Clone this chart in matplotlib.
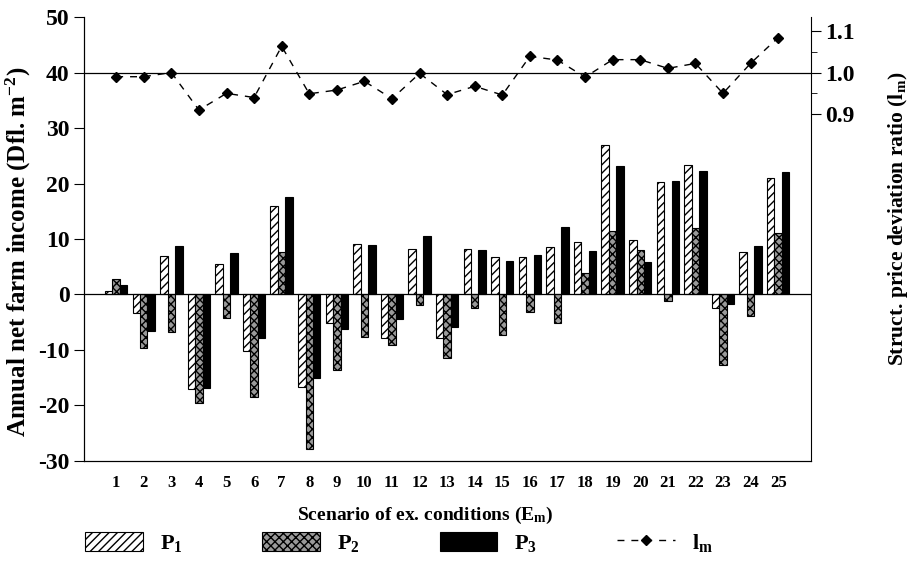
import numpy as np
from matplotlib import pyplot as plt
from matplotlib.ticker import FixedLocator

plt.rcParams['font.family'] = ['Liberation Serif', 'DejaVu Serif']
plt.rcParams['mathtext.fontset'] = 'stix'
plt.rcParams['hatch.linewidth'] = 1.0
plt.rcParams['axes.unicode_minus'] = False

#Data
scen = np.arange(1, 26)
p1 = [0.7, -3.3, 7.0, -17.1, 5.5, -10.2, 15.9, -16.6, -5.1, 9.1,
      -7.9, 8.2, -7.8, 8.2, 6.8, 6.7, 8.5, 9.5, 27.0, 9.9,
      20.3, 23.4, -2.4, 7.6, 21.0]
p2 = [2.7, -9.7, -6.8, -19.5, -4.2, -18.4, 7.7, -27.9, -13.6, -7.6,
      -9.1, -1.9, -11.5, -2.4, -7.3, -3.1, -5.2, 3.8, 11.4, 8.0,
      -1.2, 11.9, -12.7, -3.9, 11.1]
p3 = [1.7, -6.6, 8.8, -16.8, 7.5, -7.9, 17.5, -15.1, -6.2, 8.9,
      -4.4, 10.6, -5.9, 8.1, 6.1, 7.1, 12.1, 7.8, 23.2, 5.9,
      20.5, 22.3, -1.8, 8.7, 22.1]
lm = [0.99, 0.99, 1.00, 0.91, 0.95, 0.94, 1.063, 0.949, 0.958, 0.979,
      0.937, 0.998, 0.947, 0.967, 0.946, 1.039, 1.030, 0.989, 1.031, 1.031,
      1.010, 1.022, 0.950, 1.022, 1.084]

fig = plt.figure(figsize=(9.15, 5.69), dpi=100)
ax = fig.add_axes([0.092, 0.19, 0.794, 0.78])

w = 0.27
b1 = ax.bar(scen - w, p1, w, color='white', edgecolor='black', hatch='////', linewidth=0.8, label=r'P$\mathregular{_1}$')
b2 = ax.bar(scen, p2, w, color='#9a9a9a', edgecolor='black', hatch='xxxx', linewidth=0.8, label=r'P$\mathregular{_2}$')
b3 = ax.bar(scen + w, p3, w, color='black', edgecolor='black', linewidth=0.8, label=r'P$\mathregular{_3}$')
ax.axhline(0, color='black', lw=0.9)

ax.set_xlim(-0.16, 26.18)
ax.set_ylim(-30, 50)
ax.set_yticks(np.arange(-30, 51, 10))
ax.set_xticks(scen)
ax.tick_params(axis='x', length=0, pad=10, labelsize=12)
ax.tick_params(axis='y', direction='out', length=7, labelsize=17)
for t in ax.get_yticklabels() + ax.get_xticklabels():
    t.set_fontweight('bold')
ax.spines['top'].set_visible(False)
ax.spines['right'].set_visible(False)
ax.set_ylabel(r'Annual net farm income (Dfl. m$\mathregular{^{-2}}$)', fontsize=18, fontweight='bold')
ax.yaxis.set_label_coords(-0.07, 0.47)
ax.set_xlabel(r'Scenario of ex. conditions (E$\mathregular{_m}$)', fontsize=14, fontweight='bold')
ax.xaxis.set_label_coords(0.47, -0.10)

#second axis for the ratio
ax2 = ax.twinx()
ax2.set_ylim(1 + (-30 - 40) / 75.0, 1 + (50 - 40) / 75.0)
ax2.yaxis.set_major_locator(FixedLocator([0.9, 1.0, 1.1]))
ax2.yaxis.set_minor_locator(FixedLocator([0.95, 1.05]))
ax2.tick_params(axis='y', which='major', direction='out', length=7, labelsize=17)
ax2.tick_params(axis='y', which='minor', direction='out', length=4)
ax2.set_yticklabels(['0.9', '1.0', '1.1'], fontweight='bold')
ax2.spines['top'].set_visible(False)
ax2.axhline(1.0, color='black', lw=0.9)
l1, = ax2.plot(scen, lm, color='black', ls=(0, (5, 5)), lw=1.0, marker='D', ms=5, label=r'l$\mathregular{_m}$')
ax2.set_ylabel(r'Struct. price deviation ratio (l$\mathregular{_m}$)', fontsize=15.5, fontweight='bold')
ax2.yaxis.set_label_coords(1.103, 0.546)

fig.legend(handles=[b1, b2, b3, l1], loc='center left', bbox_to_anchor=(0.081, 0.046), ncol=4,
           frameon=False, borderpad=0, handlelength=2.6, handleheight=1.0, columnspacing=3.6, handletextpad=0.75,
           prop={'family': 'Liberation Serif', 'size': 16, 'weight': 'bold'})

plt.savefig('out.png', dpi=100)
